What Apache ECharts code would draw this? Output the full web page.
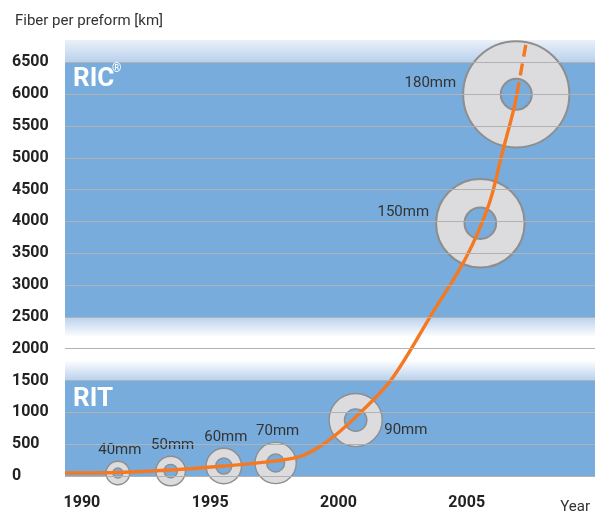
<!DOCTYPE html>
<html>
<head>
<meta charset="utf-8">
<script src="https://cdn.jsdelivr.net/npm/echarts@6/dist/echarts.min.js"></script>
<style>
html, body { margin: 0; padding: 0; background: #fff; }
#chart { width: 603px; height: 511px; }
</style>
</head>
<body>
<div id="chart"></div>
<script>
// axis labels
var yTicks = [0, 500, 1000, 1500, 2000, 2500, 3000, 3500, 4000, 4500, 5000, 5500, 6000, 6500]
var yearTicks = [1990, 1995, 2000, 2005]

// shaded regions (km)
var ritBand = [0, 1500]
var ritFade = [1500, 1820]
var ricFade = [2180, 2500]
var ricBand = [2500, 6500]
var ricTop = [6500, 6850]

// preform sizes and where they sit
var preformMm = [40, 50, 60, 70, 90, 150, 180]
var preformYear = [1991.4, 1993.46, 1995.53, 1997.55, 2000.67, 2005.53, 2006.93]
var preformKm = [47, 78, 157, 204, 879, 3972, 5997]

// fiber per preform curve
var curveYear = [1989.34, 1991.4, 1993.46, 1995.53, 1997.32, 1998.48, 1999.26, 2000.04, 2000.82, 2002.05, 2003.66, 2004.98, 2005.88, 2006.38, 2006.85, 2007.04]
var curveKm = [47, 55, 94, 157, 225, 303, 460, 696, 984, 1507, 2559, 3438, 4286, 5071, 5793, 6186]
var dashYear = [2007.04, 2007.32]
var dashKm = [6186, 6814]

var font = "Roboto, 'Liberation Sans', sans-serif"
var blue = '#78acdc'
var paleBlue = '#b9d0ec'

// per ring styling
var holeR = [5, 6.7, 8, 9, 11.2, 15.8, 15.5]
var labelSide = ['top', 'top', 'top', 'top', 'right', 'left', 'left']

function fade(from, to) {
	return {
		type: 'linear', x: 0, y: 0, x2: 0, y2: 1,
		colorStops: [{ offset: 0, color: from }, { offset: 1, color: to }]
	}
}

var curve = curveYear.map(function (y, i) { return [y, curveKm[i]] })
var dash = dashYear.map(function (y, i) { return [y, dashKm[i]] })
var rings = preformMm.map(function (mm, i) { return [preformYear[i], preformKm[i], mm] })

var myChart = echarts.init(document.getElementById('chart'))
var option = {
	animation: false,
	title: [{
		text: 'Fiber per preform [km]',
		left: 10,
		top: 9,
		textStyle: { fontFamily: font, fontSize: 15, fontWeight: 'normal', color: '#333' }
	}, {
		text: 'Year',
		right: 8,
		top: 495,
		textStyle: { fontFamily: font, fontSize: 15, fontWeight: 'normal', color: '#333' }
	}],
	grid: { left: 65, right: 8, top: 40, bottom: 35 },
	xAxis: {
		type: 'value',
		min: 1989.34,
		max: 2010,
		axisLine: { show: false },
		axisTick: { show: false },
		splitLine: { show: false },
		axisLabel: {
			customValues: yearTicks,
			formatter: function (v) { return String(v) },
			margin: 19,
			fontFamily: font,
			fontSize: 16,
			fontWeight: 'bold',
			color: '#222'
		}
	},
	yAxis: {
		type: 'value',
		min: 0,
		max: 6850,
		axisLine: { show: false },
		axisTick: { show: false },
		splitLine: { show: false },
		axisLabel: {
			customValues: yTicks,
			formatter: function (v) { return String(v) },
			align: 'left',
			margin: 53,
			fontFamily: font,
			fontSize: 16,
			fontWeight: 'bold',
			color: '#222'
		}
	},
	graphic: [
		{ type: 'text', left: 73, top: 66, z: 10, style: { text: 'RIC', fill: '#fff', font: 'bold 26px ' + font } },
		{ type: 'text', left: 112, top: 63, z: 10, style: { text: '®', fill: '#fff', font: 'bold 12px ' + font } },
		{ type: 'text', left: 73, top: 386, z: 10, style: { text: 'RIT', fill: '#fff', font: 'bold 26px ' + font } }
	],
	series: [{
		type: 'line',
		data: [],
		silent: true,
		z: 1,
		markArea: {
			silent: true,
			data: [
				[{ yAxis: ritBand[0], itemStyle: { color: blue } }, { yAxis: ritBand[1] }],
				[{ yAxis: ritFade[0], itemStyle: { color: fade('#ffffff', paleBlue) } }, { yAxis: ritFade[1] }],
				[{ yAxis: ricFade[0], itemStyle: { color: fade(paleBlue, '#ffffff') } }, { yAxis: ricFade[1] }],
				[{ yAxis: ricBand[0], itemStyle: { color: blue } }, { yAxis: ricBand[1] }],
				[{ yAxis: ricTop[0], itemStyle: { color: fade('#eaf0f8', paleBlue) } }, { yAxis: ricTop[1] }]
			]
		},
		markLine: {
			silent: true,
			symbol: 'none',
			label: { show: false },
			lineStyle: { color: '#b0b2b4', type: 'solid', width: 1 },
			data: yTicks.map(function (v) { return { yAxis: v } })
		}
	}, {
		type: 'custom',
		z: 3,
		data: rings,
		renderItem: function (params, api) {
			var i = params.dataIndex
			var p = api.coord([api.value(0), api.value(1)])
			var r = api.value(2) * 0.295
			var side = labelSide[i]
			var tx, ty, al
			if (side === 'top') { tx = p[0] + 2; ty = p[1] - r - 11; al = 'center' }
			else if (side === 'right') { tx = p[0] + r + 2; ty = p[1] + 10; al = 'left' }
			else { tx = p[0] - r - 7; ty = p[1] - 11; al = 'right' }
			return {
				type: 'group',
				children: [{
					type: 'ring',
					shape: { cx: p[0], cy: p[1], r: r, r0: holeR[i] },
					style: { fill: '#dcdcde', stroke: '#8e8e8e', lineWidth: r > 30 ? 2 : 1.4 }
				}, {
					type: 'text',
					x: tx,
					y: ty,
					style: {
						text: api.value(2) + 'mm',
						align: al,
						verticalAlign: 'middle',
						font: '15px ' + font,
						fill: '#333'
					}
				}]
			}
		}
	}, {
		type: 'line',
		z: 4,
		data: curve,
		smooth: 0.35,
		showSymbol: false,
		clip: false,
		lineStyle: { color: '#f47920', width: 3.4 }
	}, {
		type: 'line',
		z: 4,
		data: dash,
		showSymbol: false,
		clip: false,
		lineStyle: { color: '#f47920', width: 3.4, type: [12, 7], dashOffset: 12 }
	}]
}
myChart.setOption(option)
</script>
</body>
</html>
